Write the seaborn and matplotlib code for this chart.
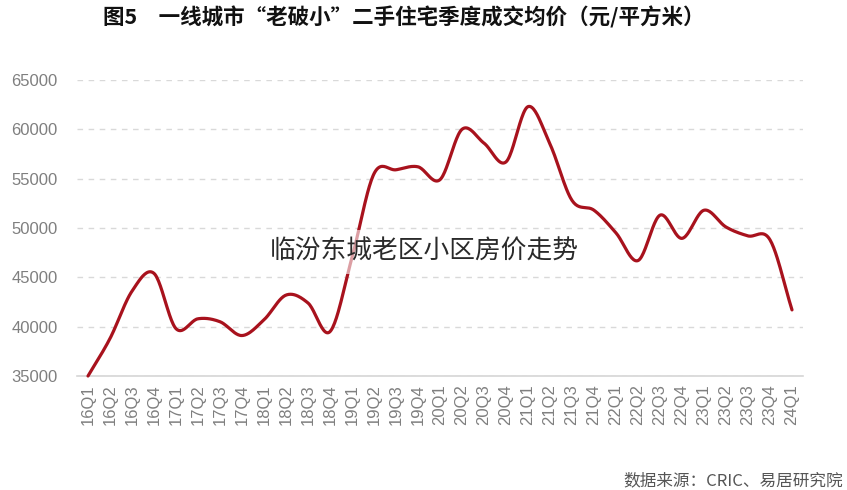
import numpy as np
import pandas as pd
import matplotlib
matplotlib.use("Agg")
import matplotlib.pyplot as plt
import seaborn as sns

quarters = ["16Q1", "16Q2", "16Q3", "16Q4", "17Q1", "17Q2", "17Q3", "17Q4",
            "18Q1", "18Q2", "18Q3", "18Q4", "19Q1", "19Q2", "19Q3", "19Q4",
            "20Q1", "20Q2", "20Q3", "20Q4", "21Q1", "21Q2", "21Q3", "21Q4",
            "22Q1", "22Q2", "22Q3", "22Q4", "23Q1", "23Q2", "23Q3", "23Q4",
            "24Q1"]
prices = [35000, 38800, 43600, 45400, 39800, 40800, 40500, 39100,
          40700, 43200, 42400, 39500, 47000, 55500, 55900, 56200,
          54900, 60000, 58600, 56700, 62300, 58500, 52800, 51800,
          49500, 46700, 51300, 48950, 51800, 50100, 49200, 48800,
          41700]
y_ticks = [35000, 40000, 45000, 50000, 55000, 60000, 65000]

title = "图5　一线城市“老破小”二手住宅季度成交均价（元/平方米）"
source = "数据来源：CRIC、易居研究院"
watermark = "临汾东城老区小区房价走势"

sns.set_theme(style="white")
plt.rcParams["font.family"] = ["Noto Sans CJK SC", "DejaVu Sans"]

W, H = 847, 490
fig = plt.figure(figsize=(W / 100, H / 100), dpi=100)
fig.patch.set_facecolor("white")
ax = fig.add_axes([77 / W, 1 - 376 / H, (803 - 77) / W, (376 - 80) / H])


def smooth(xv, yv, n=24):
    xv = np.asarray(xv, float)
    yv = np.asarray(yv, float)
    m = np.empty_like(yv)
    m[1:-1] = (yv[2:] - yv[:-2]) / 2.0
    m[0] = yv[1] - yv[0]
    m[-1] = yv[-1] - yv[-2]
    xs, ys = [], []
    t = np.linspace(0, 1, n, endpoint=False)
    h00 = 2 * t**3 - 3 * t**2 + 1
    h10 = t**3 - 2 * t**2 + t
    h01 = -2 * t**3 + 3 * t**2
    h11 = t**3 - t**2
    for i in range(len(yv) - 1):
        xs.append(xv[i] + t * (xv[i + 1] - xv[i]))
        ys.append(h00 * yv[i] + h10 * m[i] + h01 * yv[i + 1] + h11 * m[i + 1])
    xs.append([xv[-1]])
    ys.append([yv[-1]])
    return np.concatenate(xs), np.concatenate(ys)


xpos = np.arange(len(quarters))
sx, sy = smooth(xpos, prices)
df = pd.DataFrame({"x": sx, "price": sy})
sns.lineplot(data=df, x="x", y="price", ax=ax, sort=False, color="#A8121D",
             linewidth=2.3, zorder=3)
for ln in ax.lines:
    ln.set_clip_on(False)
    ln.set_solid_capstyle("round")

ax.set_xlim(-0.5, 32.5)
ax.set_ylim(35000, 65000)
ax.set_yticks(y_ticks)
ax.set_yticklabels([str(v) for v in y_ticks], fontsize=12, color="#7f7f7f",
                   family=["Liberation Sans", "DejaVu Sans"])
ax.set_xticks(xpos)
ax.set_xticklabels(quarters, rotation=90, fontsize=12, color="#7f7f7f",
                   family=["Liberation Sans", "DejaVu Sans"])
ax.tick_params(axis="y", length=0, pad=14)
ax.tick_params(axis="x", length=0, pad=6)
ax.set_xlabel("")
ax.set_ylabel("")

ax.yaxis.grid(True, linestyle=(0, (4, 4)), color="#d9d9d9", linewidth=1)
ax.set_axisbelow(True)
for s in ["top", "right", "left"]:
    ax.spines[s].set_visible(False)
ax.spines["bottom"].set_color("#d6d6d6")
ax.spines["bottom"].set_linewidth(1.2)

fig.text(103 / W, 1 - 17 / H, title, fontsize=15.5, fontweight="bold",
         color="#111111", ha="left", va="center")
fig.text(843 / W, 1 - 481 / H, source, fontsize=12, color="#555555",
         ha="right", va="center")
fig.text(424 / W, 1 - 252 / H, watermark, fontsize=18.5, fontweight=100,
         color="#2a2a2a", ha="center", va="center", zorder=10,
         bbox=dict(boxstyle="square,pad=0.35", fc="white", ec="none", alpha=0.6))

fig.savefig("out.png", dpi=100, facecolor="white")
